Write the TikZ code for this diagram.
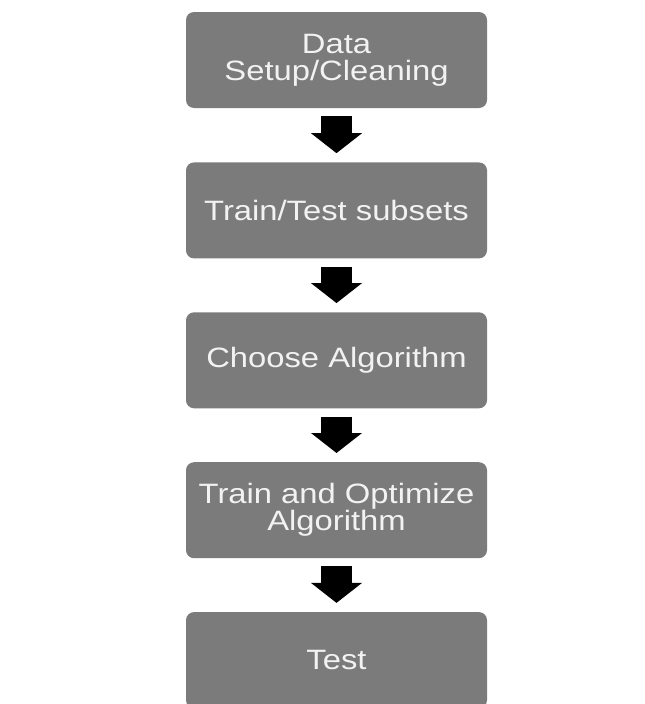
\documentclass[tikz,border=0pt]{standalone}
\usepackage{fontspec}
\newfontfamily\boxfont[FakeStretch=1.17]{Liberation Sans}
\usetikzlibrary{positioning,arrows.meta}
\definecolor{boxgray}{HTML}{7B7B7B}
\definecolor{boxtext}{HTML}{F2F2F2}
\tikzset{
  stepbox/.style={fill=boxgray, rounded corners=8pt, minimum width=301pt,
    minimum height=96pt, align=center, inner sep=0pt,
    text=boxtext, font=\boxfont\fontsize{28}{27}\selectfont},
  blockarrow/.style={line width=31pt, black, shorten <=8pt, shorten >=9pt,
    -{Triangle[width=50pt,length=20pt]}}
}
\begin{document}
\begin{tikzpicture}[x=1pt,y=1pt]
  \useasboundingbox (0,0) rectangle (645,-704);
  \clip (0,0) rectangle (645,-704);

  \node[stepbox] (data) at (336.5,-60) {Data\\Setup/Cleaning};
  \node[stepbox, below=54pt of data] (split) {Train/Test subsets};
  \node[stepbox, below=53.5pt of split] (choose) {Choose Algorithm};
  \node[stepbox, below=53.5pt of choose] (train) {Train and Optimize\\Algorithm};
  \node[stepbox, below=53.5pt of train] (test) {Test};

  \draw[blockarrow] (data) -- (split);
  \draw[blockarrow] (split) -- (choose);
  \draw[blockarrow] (choose) -- (train);
  \draw[blockarrow] (train) -- (test);
\end{tikzpicture}
\end{document}
